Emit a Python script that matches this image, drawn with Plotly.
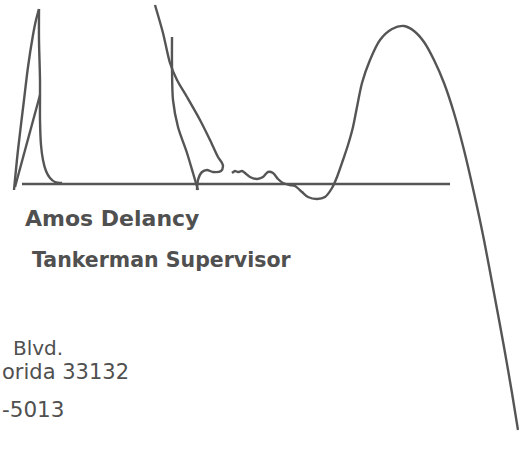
import plotly.graph_objects as go

# ---- signature strokes (pixel coordinates on the card image) ----
stroke1_up_x = [14, 18, 24, 28, 33, 36, 39]
stroke1_up_y = [190, 150, 100, 67, 35, 20, 9]
stroke1_down_x = [39, 39, 40, 40, 41, 43, 46, 50, 55, 62]
stroke1_down_y = [9, 40, 80, 120, 145, 160, 171, 178, 182, 183]
stroke1_diag_x = [15, 40]
stroke1_diag_y = [187, 95]

stroke2_loop_x = [155, 163, 170, 177, 187, 200, 210, 218, 222, 223, 221, 213, 207, 202, 198, 197]
stroke2_loop_y = [5, 33, 63, 80, 97, 120, 140, 157, 163, 166, 171, 172, 170, 172, 180, 190]
stroke2_bar_x = [172, 172, 173, 178, 187, 193, 198]
stroke2_bar_y = [37, 67, 100, 127, 153, 173, 190]

stroke3_x = [232, 235, 238, 242, 245, 250, 257, 263, 268, 273, 278, 283, 290, 295, 302, 308,
             317, 325, 332, 337, 343, 348, 353, 357, 362, 370, 380, 392, 404, 414, 424, 434,
             444, 454, 464, 474, 484, 494, 504, 512, 518]
stroke3_y = [173, 171, 172, 171, 173, 177, 179, 177, 172, 173, 179, 183, 185, 186, 192, 197,
             199, 197, 188, 177, 160, 145, 127, 107, 83, 60, 40, 29, 26, 31, 42, 60,
             83, 113, 150, 193, 240, 293, 347, 393, 430]

baseline_x = [22, 450]
baseline_y = [184, 184]

# ---- card text ----
name_text = "Amos Delancy"
title_text = "Tankerman Supervisor"
address_lines = ["Blvd.", "orida 33132", "-5013"]

strokes = [
    (stroke1_up_x, stroke1_up_y),
    (stroke1_down_x, stroke1_down_y),
    (stroke1_diag_x, stroke1_diag_y),
    (stroke2_loop_x, stroke2_loop_y),
    (stroke2_bar_x, stroke2_bar_y),
    (stroke3_x, stroke3_y),
    (baseline_x, baseline_y),
]

ink = "#555555"
text_col = "#505050"

fig = go.Figure()
for sx, sy in strokes:
    fig.add_trace(go.Scatter(
        x=sx, y=sy, mode="lines",
        line=dict(color=ink, width=2.4, shape="spline", smoothing=0.8),
        hoverinfo="skip", showlegend=False,
    ))

font_b = "DejaVu Sans"
fig.add_annotation(x=23, y=218, text=f"<b>{name_text}</b>", showarrow=False,
                   xanchor="left", yanchor="middle",
                   font=dict(family=font_b, size=22, color=text_col))
fig.add_annotation(x=30, y=260, text=f"<b>{title_text}</b>", showarrow=False,
                   xanchor="left", yanchor="middle",
                   font=dict(family=font_b, size=20.5, color=text_col))

addr_anchor_x = [11, 131, 66]
addr_anchor = ["left", "right", "right"]
addr_y = [348, 372, 409]
addr_size = [20, 21, 21.5]
for t, ax, anc, ay, sz in zip(address_lines, addr_anchor_x, addr_anchor, addr_y, addr_size):
    fig.add_annotation(x=ax, y=ay, text=t, showarrow=False,
                       xanchor=anc, yanchor="middle",
                       font=dict(family=font_b, size=sz, color=text_col))

fig.update_xaxes(range=[0, 519], visible=False, fixedrange=True)
fig.update_yaxes(range=[450, 0], visible=False, fixedrange=True)
fig.update_layout(
    width=519, height=450,
    margin=dict(l=0, r=0, t=0, b=0),
    paper_bgcolor="white", plot_bgcolor="white",
)

fig.write_html("out.html", config={"displayModeBar": False},
               post_script="document.body.style.margin='0';")
